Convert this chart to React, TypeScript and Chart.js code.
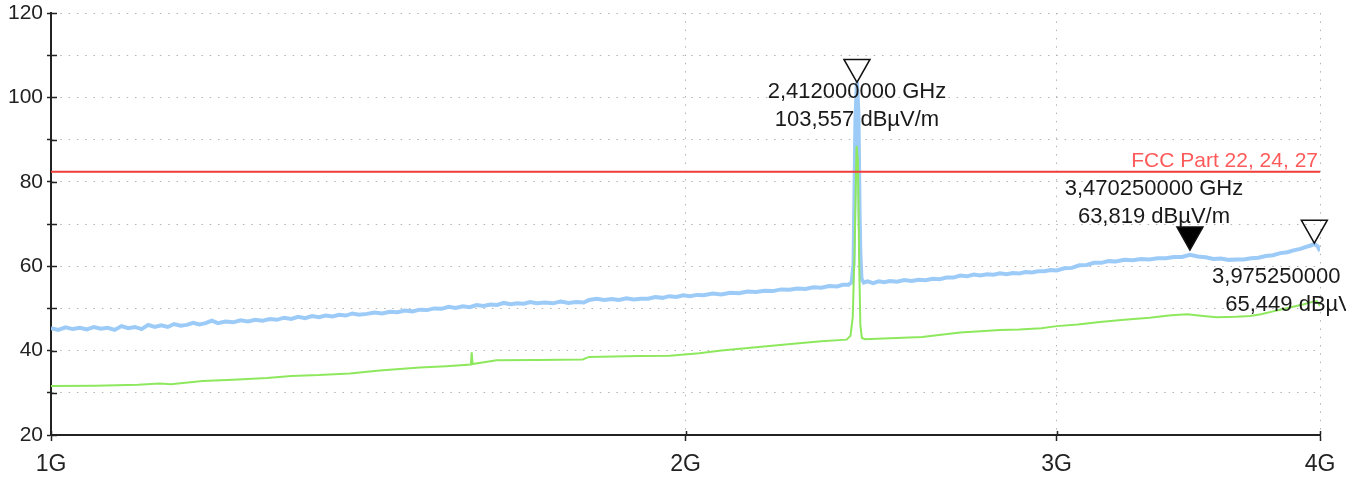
import React, { useEffect, useRef } from "react";
import { Chart, registerables } from "chart.js";

Chart.register(...registerables);

// ---------- data (frequency in GHz, level in dBµV/m) ----------
const xTickValues = [1, 2, 3, 4];
const yMin = 20;
const yMax = 120;

const blueFreq = [
  1.0, 1.008, 1.016, 1.024, 1.032, 1.04, 1.048, 1.056, 1.064, 1.072, 1.08, 1.088, 1.096, 1.104, 1.112, 1.12,
  1.128, 1.136, 1.144, 1.152, 1.16, 1.168, 1.176, 1.184, 1.192, 1.2, 1.21, 1.22, 1.23, 1.24, 1.25, 1.26,
  1.27, 1.28, 1.29, 1.3, 1.31, 1.32, 1.33, 1.34, 1.35, 1.36, 1.37, 1.38, 1.39, 1.4, 1.412, 1.424, 1.436,
  1.448, 1.46, 1.472, 1.484, 1.496, 1.508, 1.52, 1.532, 1.544, 1.556, 1.568, 1.58, 1.592, 1.604, 1.616,
  1.628, 1.64, 1.652, 1.664, 1.676, 1.688, 1.7, 1.715, 1.73, 1.745, 1.76, 1.775, 1.79, 1.8, 1.815, 1.83,
  1.845, 1.86, 1.875, 1.89, 1.905, 1.92, 1.935, 1.95, 1.965, 1.98, 1.995, 2.01, 2.025, 2.04, 2.06, 2.08,
  2.1, 2.12, 2.14, 2.16, 2.18, 2.2, 2.22, 2.24, 2.26, 2.28, 2.3, 2.32, 2.34, 2.36, 2.375, 2.39, 2.398,
  2.403, 2.408, 2.412, 2.416, 2.419, 2.421, 2.424, 2.43, 2.44, 2.455, 2.47, 2.485, 2.5, 2.52, 2.54, 2.56,
  2.58, 2.6, 2.62, 2.64, 2.66, 2.68, 2.7, 2.72, 2.74, 2.76, 2.78, 2.8, 2.82, 2.84, 2.86, 2.88, 2.9, 2.92,
  2.94, 2.96, 2.98, 3.0, 3.025, 3.05, 3.075, 3.1, 3.125, 3.15, 3.175, 3.2, 3.23, 3.26, 3.29, 3.32, 3.35,
  3.38, 3.41, 3.44, 3.47, 3.5, 3.53, 3.56, 3.59, 3.62, 3.65, 3.68, 3.71, 3.74, 3.77, 3.8, 3.83, 3.86,
  3.89, 3.915, 3.94, 3.96, 3.975, 3.99, 4.0,
];
const blueLevel = [
  45.3, 44.9, 45.5, 45.1, 45.4, 45.0, 45.6, 45.2, 45.4, 44.9, 45.8, 45.3, 45.6, 45.1, 46.1, 45.6,
  46.0, 45.6, 46.3, 45.9, 46.1, 46.6, 46.2, 46.5, 47.1, 46.5, 46.9, 46.7, 47.2, 46.9, 47.3, 47.1,
  47.5, 47.3, 47.8, 47.5, 48.0, 47.7, 48.2, 47.9, 48.3, 48.1, 48.5, 48.3, 48.8, 48.5, 48.7, 49.0, 48.8,
  49.2, 49.1, 49.5, 49.3, 49.7, 49.6, 50.0, 49.9, 50.4, 50.1, 50.5, 50.3, 50.8, 50.6, 50.9,
  50.8, 51.3, 51.0, 51.2, 51.1, 51.5, 51.2, 51.4, 51.2, 51.6, 51.3, 51.5, 51.4, 52.0, 52.3, 52.0,
  52.2, 52.0, 52.4, 52.1, 52.3, 52.3, 52.7, 52.5, 52.9, 52.7, 53.1, 52.9, 53.2, 53.1, 53.5, 53.3,
  53.7, 53.6, 54.0, 53.9, 54.2, 54.1, 54.5, 54.4, 54.7, 54.6, 55.0, 54.9, 55.3, 55.2, 55.6, 55.6, 56.2,
  60.5, 95.0, 103.557, 96.0, 72.0, 63.0, 57.0, 56.1, 56.4, 56.0, 56.4, 56.2, 56.5, 56.3, 56.7, 56.5,
  56.8, 56.7, 57.0, 56.9, 57.3, 57.3, 57.8, 57.6, 58.0, 57.8, 58.1, 58.0, 58.3, 58.1, 58.4, 58.3, 58.6, 58.5,
  58.8, 58.8, 59.1, 59.0, 59.5, 59.6, 60.2, 60.3, 60.8, 60.8, 61.2, 61.1, 61.5, 61.4, 61.7, 61.6, 61.9,
  61.9, 62.2, 62.2, 62.7, 62.3, 62.1, 61.7, 61.8, 61.5, 61.6, 61.6, 61.9, 62.0, 62.4, 62.6, 63.1, 63.3,
  63.8, 64.1, 64.6, 64.9, 65.3, 64.7, 63.6,
];

const greenFreq = [
  1.0, 1.05, 1.1, 1.126, 1.14, 1.18, 1.22, 1.266, 1.3, 1.34, 1.386, 1.432, 1.496, 1.54, 1.582, 1.5834,
  1.585, 1.627, 1.7, 1.7876, 1.8, 1.9, 1.966, 2.03, 2.08, 2.16, 2.25, 2.32, 2.385, 2.395, 2.401, 2.406,
  2.411, 2.4145, 2.418, 2.421, 2.425, 2.433, 2.5, 2.59, 2.65, 2.7, 2.76, 2.82, 2.88, 2.95, 3.0, 3.07,
  3.145, 3.23, 3.32, 3.4, 3.46, 3.52, 3.574, 3.65, 3.706, 3.75, 3.8, 3.84, 3.884, 3.93, 3.97, 3.987, 4.0,
];
const greenLevel = [
  31.6, 31.7, 31.9, 32.2, 32.0, 32.8, 33.1, 33.5, 34.0, 34.2, 34.6, 35.3, 36.0, 36.3, 36.7, 39.6,
  36.8, 37.7, 37.8, 37.9, 38.5, 38.7, 38.8, 39.4, 40.0, 40.8, 41.6, 42.2, 42.6, 43.5, 48.0, 65.0,
  88.5, 85.0, 60.0, 46.0, 43.0, 42.7, 42.9, 43.2, 43.8, 44.3, 44.6, 44.9, 45.0, 45.3, 45.8, 46.2,
  46.8, 47.3, 47.8, 48.4, 48.6, 48.2, 47.9, 48.0, 48.2, 48.6, 49.3, 49.8, 50.4, 51.0, 51.6, 51.7, 50.6,
];

const limitFreq = [1, 4];
const limitLevel = [82.4, 82.4];
const limitLabel = "FCC Part 22, 24, 27";

const markerFreq = [2.412, 3.47025, 3.97525];
const markerLevel = [103.557, 63.819, 65.449];
const markerFilled = [false, true, false];
// label placement (pixels relative to the marker tip)
const markerLabelDx = [0, -36, -13];
const markerLabelDy = [16, -55, 40];

const FONT = "'Liberation Sans', Arial, Helvetica, sans-serif";
const AXIS_COLOR = "#222222";
const GRID_COLOR = "#b4b4b4";

const pts = (xs: number[], ys: number[]) => xs.map((x, i) => ({ x, y: ys[i] }));

const markerPlugin = {
  id: "markerPlugin",
  afterDraw(chart: any) {
    const { ctx, chartArea, scales } = chart;
    const xs = scales.x;
    const ys = scales.y;
    ctx.save();
    // inner halves of tick marks
    ctx.strokeStyle = AXIS_COLOR;
    ctx.lineWidth = 1.5;
    ctx.beginPath();
    ys.ticks.forEach((_: any, i: number) => {
      const y = Math.round(ys.getPixelForTick(i)) + 0.5;
      ctx.moveTo(chartArea.left, y);
      ctx.lineTo(chartArea.left + 6, y);
    });
    xs.ticks.forEach((_: any, i: number) => {
      const x = Math.round(xs.getPixelForTick(i)) + 0.5;
      ctx.moveTo(x, chartArea.bottom);
      ctx.lineTo(x, chartArea.bottom - 4);
    });
    ctx.stroke();

    // limit label
    ctx.font = `21px ${FONT}`;
    ctx.fillStyle = "#ff5a5a";
    ctx.textAlign = "right";
    ctx.textBaseline = "alphabetic";
    ctx.fillText(limitLabel, xs.getPixelForValue(limitFreq[1]) - 2, ys.getPixelForValue(limitLevel[1]) - 5);

    // markers
    markerFreq.forEach((f, i) => {
      const px = xs.getPixelForValue(f);
      const py = ys.getPixelForValue(markerLevel[i]);
      const w = 26;
      const h = 23;
      ctx.beginPath();
      ctx.moveTo(px, py);
      ctx.lineTo(px - w / 2, py - h);
      ctx.lineTo(px + w / 2, py - h);
      ctx.closePath();
      ctx.lineWidth = 1.5;
      ctx.strokeStyle = "#111";
      if (markerFilled[i]) {
        ctx.fillStyle = "#000";
        ctx.fill();
      }
      ctx.stroke();
    });

    // marker readouts (clipped a little past the plot's right edge, as in the instrument view)
    ctx.save();
    ctx.beginPath();
    ctx.rect(0, 0, chartArea.right + 26, chart.height);
    ctx.clip();
    markerFreq.forEach((f, i) => {
      const px = xs.getPixelForValue(f);
      const py = ys.getPixelForValue(markerLevel[i]);
      const l1 = f.toFixed(9).replace(".", ",") + " GHz";
      const l2 = markerLevel[i].toFixed(3).replace(".", ",") + " dBµV/m";
      ctx.font = `22px ${FONT}`;
      ctx.fillStyle = "#1a1a1a";
      ctx.textAlign = "center";
      const cx = px + markerLabelDx[i];
      const by = py + markerLabelDy[i];
      ctx.fillText(l1, cx, by);
      ctx.fillText(l2, cx, by + 27.5);
    });
    ctx.restore();
    ctx.restore();
  },
};

export default function App() {
  const canvasRef = useRef<HTMLCanvasElement | null>(null);

  useEffect(() => {
    if (!canvasRef.current) return;
    const chart = new Chart(canvasRef.current, {
      type: "line",
      data: {
        datasets: [
          {
            data: pts(limitFreq, limitLevel),
            borderColor: "#f03c3c",
            borderWidth: 2,
            pointRadius: 0,
            order: 0,
          },
          {
            data: pts(greenFreq, greenLevel),
            borderColor: "#8ee85e",
            borderWidth: 2,
            pointRadius: 0,
            order: 1,
          },
          {
            data: pts(blueFreq, blueLevel),
            borderColor: "#9ccbf7",
            borderWidth: 4,
            pointRadius: 0,
            order: 2,
          },
        ],
      },
      options: {
        animation: false,
        responsive: true,
        maintainAspectRatio: false,
        layout: { padding: { left: 0, top: 13, right: 43, bottom: 0 } },
        plugins: { legend: { display: false }, tooltip: { enabled: false } },
        elements: { line: { tension: 0 } },
        scales: {
          x: {
            type: "logarithmic",
            min: 1,
            max: 4,
            afterBuildTicks: (scale: any) => {
              scale.ticks = xTickValues.map((v) => ({ value: v }));
            },
            afterFit: (scale: any) => {
              scale.height = 46;
              scale.paddingLeft = 0;
              scale.paddingRight = 0;
            },
            ticks: {
              autoSkip: false,
              maxRotation: 0,
              padding: 10,
              color: "#222",
              font: { family: FONT, size: 23 },
              callback: (v: any) => `${v}G`,
            },
            grid: {
              color: GRID_COLOR,
              lineWidth: 1,
              tickLength: 6,
              tickColor: AXIS_COLOR,
              tickWidth: 1.5,
            },
            border: { display: true, color: AXIS_COLOR, width: 2, dash: [1.5, 6.8] },
          },
          y: {
            type: "linear",
            min: yMin,
            max: yMax,
            afterFit: (scale: any) => {
              scale.width = 51;
              scale.paddingTop = 0;
              scale.paddingBottom = 0;
            },
            ticks: {
              stepSize: 10,
              padding: 4,
              color: "#222",
              font: { family: FONT, size: 21 },
              callback: (v: any) => (Number(v) % 20 === 0 ? String(v) : ""),
            },
            grid: {
              color: GRID_COLOR,
              lineWidth: 1,
              tickLength: 4,
              tickColor: AXIS_COLOR,
              tickWidth: 1.5,
            },
            border: { display: true, color: AXIS_COLOR, width: 2, dash: [1.5, 6.8] },
          },
        },
      },
      plugins: [markerPlugin],
    });
    return () => chart.destroy();
  }, []);

  return (
    <div style={{ position: "absolute", left: 0, top: 0, width: 1363, height: 481, background: "#fff" }}>
      <canvas ref={canvasRef} />
    </div>
  );
}
